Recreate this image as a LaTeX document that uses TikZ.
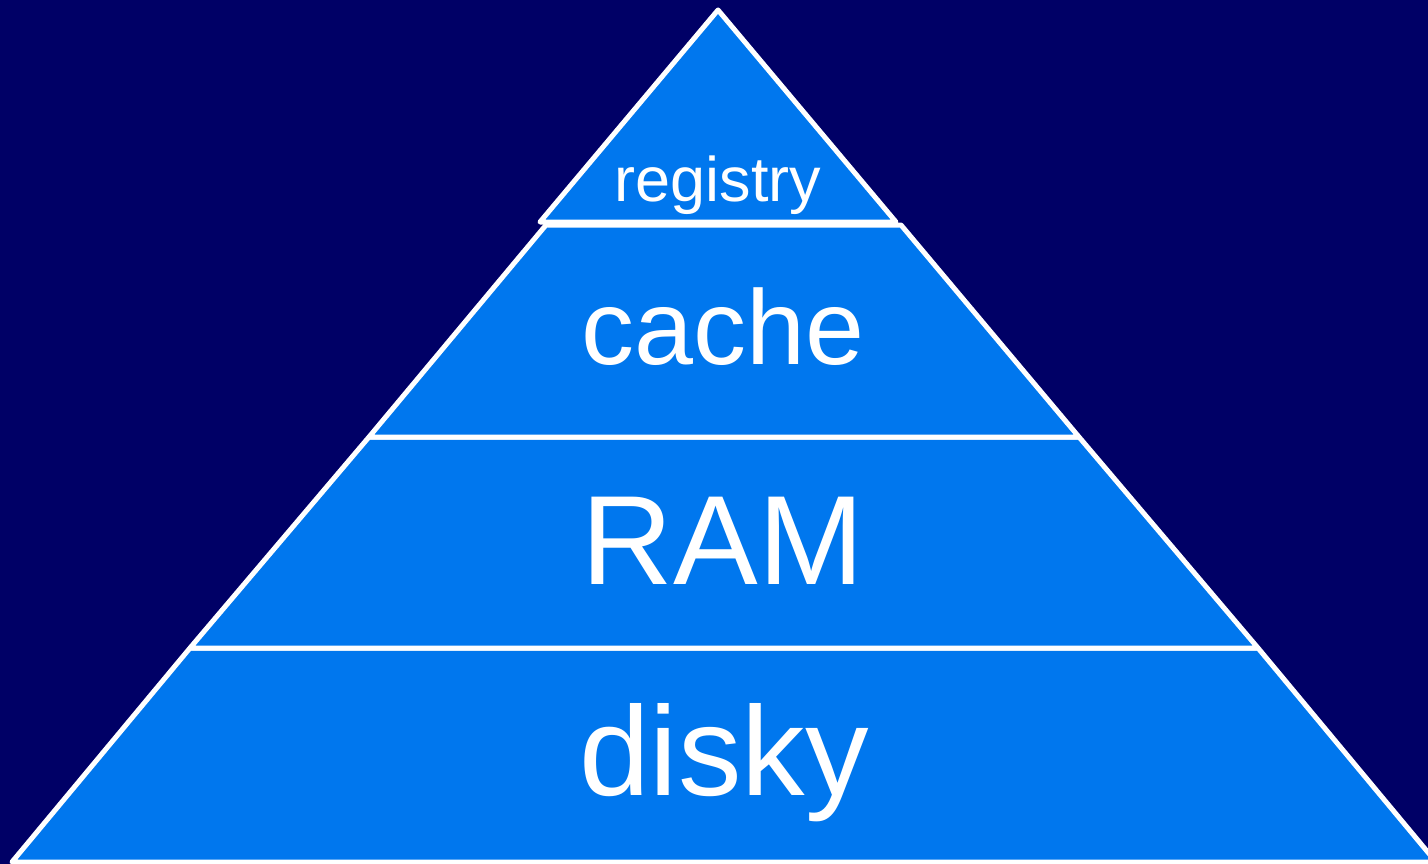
\documentclass[tikz,border=0pt]{standalone}
\usepackage{fontspec}
\setmainfont{Liberation Sans}
\definecolor{bgnavy}{HTML}{000066}
\definecolor{layerblue}{HTML}{0077EE}
\begin{document}
\begin{tikzpicture}[x=1pt,y=-1pt,
  layer/.style={fill=layerblue,draw=white,line width=5pt,line join=round},
  lbl/.style={text=white,anchor=base,inner sep=0pt}]
\fill[bgnavy] (0,0) rectangle (1428,864);
\useasboundingbox (0,0) rectangle (1428,864);
\begin{scope}
\clip (0,0) rectangle (1428,864);
% disky
\draw[layer] (190,648) -- (1258,648) -- (1436,862) -- (12,862) -- cycle;
% RAM
\draw[layer] (369,437) -- (1079,437) -- (1258,648) -- (190,648) -- cycle;
% cache
\draw[layer] (546,225) -- (901,225) -- (1079,437) -- (369,437) -- cycle;
% registry
\draw[layer] (718,10) -- (896,222) -- (540,222) -- cycle;
\end{scope}
\node[lbl,font=\fontsize{63}{70}\selectfont] (registry) at (718,202) {registry};
\node[lbl,font=\fontsize{106}{110}\selectfont] (cache) at (723,364) {cache};
\node[lbl,font=\fontsize{127}{130}\selectfont] (ram) at (723,584) {RAM};
\node[lbl,font=\fontsize{127}{130}\selectfont] (disky) at (724,795) {disky};
\end{tikzpicture}
\end{document}
